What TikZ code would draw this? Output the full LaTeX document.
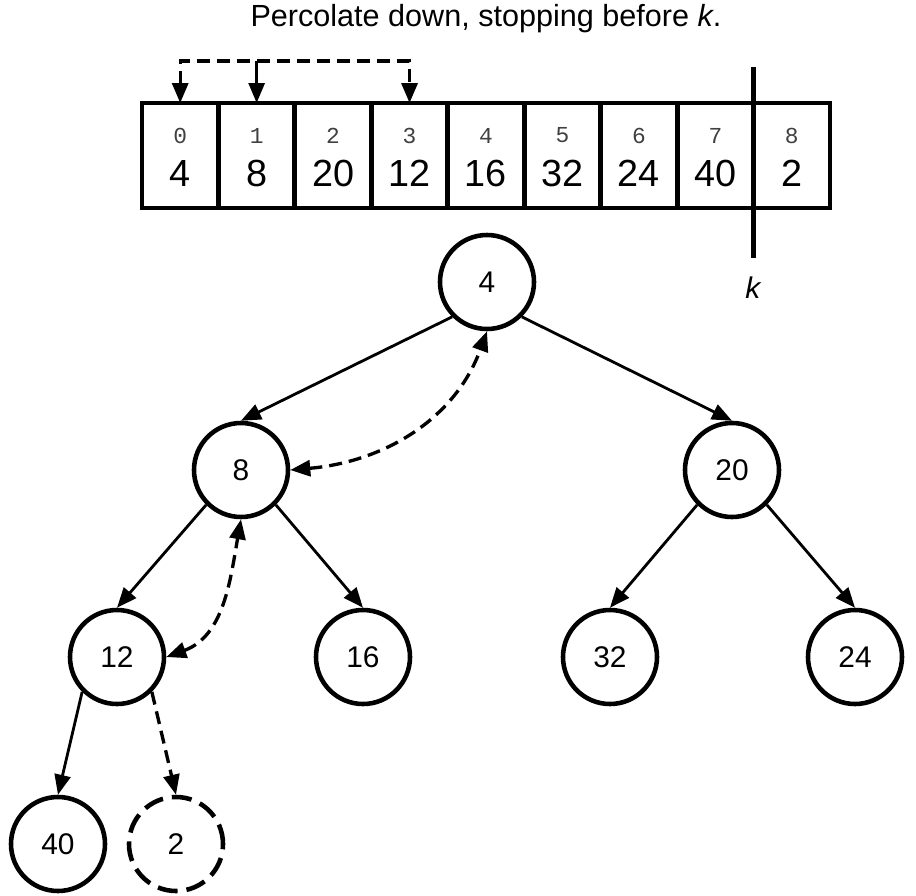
\documentclass[tikz,border=0pt]{standalone}
\usepackage{fontspec}
\setmainfont{Liberation Sans}
\newfontfamily\idxfont{Liberation Mono}
\usetikzlibrary{arrows.meta, positioning}

\begin{document}
\begin{tikzpicture}[
        >={Triangle[length=0.4cm, width=0.32cm]},
        heap/.style={on grid, circle, draw=black, line width=2.6pt,
            minimum size=1.88cm, inner sep=0pt,
            font=\fontsize{17}{20}\selectfont},
        cell/.style={rectangle, draw=black, line width=2.8pt,
            minimum width=1.529cm, minimum height=2.1cm, outer sep=0pt},
        idx/.style={font=\idxfont\fontsize{13}{15}\selectfont, text=black!75},
        val/.style={font=\fontsize{21.5}{25}\selectfont},
        tree/.style={line width=1.6pt},
        swap/.style={line width=1.9pt, dash pattern=on 0.26cm off 0.14cm}]

        \useasboundingbox (0,0) rectangle (18.32,-17.92);

        % Title
        \node (title) at (9.72,-0.38)
            {\fontsize{17.4}{20}\selectfont Percolate down, stopping before \textit{k}.};

        % Add the array cells
        \node[cell] (c0) at (3.604,-3.11) {};
        \foreach \i [count=\j from 0] in {1,...,8}
            \node[cell, right=0cm of c\j] (c\i) {};
        \foreach \v [count=\i from 0] in {4,8,20,12,16,32,24,40,2} {
            \node[idx] (i\i) at ([yshift=0.4cm]c\i.center) {\i};
            \node[val] (v\i) at ([yshift=-0.36cm]c\i.center) {\v};
        }

        % Mark the boundary k
        \coordinate (ktop) at ([yshift=0.72cm]c8.north west);
        \coordinate (kbot) at ([yshift=-1.0cm]c8.south west);
        \draw[line width=2.5pt] (ktop) -- (kbot);
        \node (k) at ([yshift=-0.6cm]kbot)
            {\fontsize{17}{20}\selectfont\textit{k}};

        % Swap arrows above the array
        \coordinate[above=0.84cm of c0.north] (hop);
        \draw[swap, <->] (c0.north) -- (hop) -| (c3.north);
        \draw[tree, ->] (c1.north |- hop) -- (c1.north);

        % Add the heap
        \node[heap] (n4) at (9.74,-5.64) {4};
        \node[heap, below left=3.76cm and 4.92cm of n4] (n8) {8};
        \node[heap, below right=3.76cm and 4.90cm of n4] (n20) {20};
        \node[heap, below left=3.74cm and 2.48cm of n8] (n12) {12};
        \node[heap, below right=3.74cm and 2.44cm of n8] (n16) {16};
        \node[heap, below left=3.74cm and 2.44cm of n20] (n32) {32};
        \node[heap, below right=3.74cm and 2.46cm of n20] (n24) {24};
        \node[heap, below left=3.74cm and 1.18cm of n12] (n40) {40};
        \node[heap, below right=3.74cm and 1.18cm of n12,
            dash pattern=on 0.4cm off 0.18cm] (n2) {2};

        % Connect parents and children
        \draw[tree, ->] (n4.south west) -- (n8.north);
        \draw[tree, ->] (n4.south east) -- (n20.north);
        \draw[tree, ->] (n8.south west) -- (n12.north);
        \draw[tree, ->] (n8.south east) -- (n16.north);
        \draw[tree, ->] (n20.south west) -- (n32.north);
        \draw[tree, ->] (n20.south east) -- (n24.north);
        \draw[tree, ->] (n12.south west) -- (n40.north);
        \draw[swap, ->] (n12.south east) -- (n2.north);

        % Swaps along the path
        \draw[swap, <->] (n8.east) to[out=5, in=-110] (n4.south);
        \draw[swap, <->] (n12.east) to[out=20, in=-100] (n8.south);
\end{tikzpicture}
\end{document}
